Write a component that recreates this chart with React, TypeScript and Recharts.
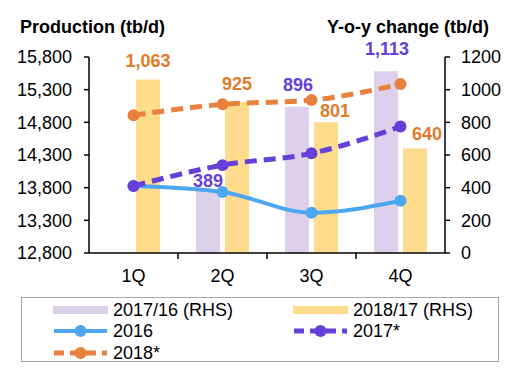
import React from "react";
import {
  ComposedChart,
  Bar,
  Line,
  XAxis,
  YAxis,
  LabelList,
} from "recharts";

const quarters = ["1Q", "2Q", "3Q", "4Q"];
const yoy1716: (number | null)[] = [null, 389, 896, 1113];
const yoy1817 = [1063, 925, 801, 640];
const prod2016 = [13825, 13735, 13415, 13600];
const prod2017 = [13825, 14145, 14325, 14735];
const prod2018 = [14910, 15075, 15140, 15385];
const leftTicks = [12800, 13300, 13800, 14300, 14800, 15300, 15800];
const rightTicks = [0, 200, 400, 600, 800, 1000, 1200];

const data = quarters.map((q, i) => ({
  q,
  yoy1716: yoy1716[i],
  yoy1817: yoy1817[i],
  p2016: prod2016[i],
  p2017: prod2017[i],
  p2018: prod2018[i],
}));

const FONT = "'Liberation Sans', Arial, sans-serif";
const LAVENDER = "#DCD0EA";
const YELLOW = "#FFDC8C";
const BLUE = "#4DA6F2";
const PURPLE = "#6440D8";
const ORANGE = "#E8803E";
const ORANGE_TXT = "#E27A2A";
const HALF_BAND = 44.5;

// label nudges per quarter (dx, gap above bar)
const yellowNudge = [
  [0, 12],
  [0, 12],
  [9, 5],
  [12, 8],
];
const lavenderNudge = [
  [0, 14],
  [0, 2],
  [1, 16],
  [1, 16],
];

const makeLabel =
  (color: string, series: (number | null)[], nudge: number[][]) =>
  (props: any) => {
    const { x, y, width, value } = props;
    if (value == null) return null;
    // null bars are skipped, so find the quarter by value
    const qi = series.indexOf(Number(value));
    const [dx, gap] = nudge[qi] || [0, 10];
    return (
      <text
        x={Number(x) + Number(width) / 2 + dx}
        y={Number(y) - gap}
        textAnchor="middle"
        fill={color}
        fontFamily={FONT}
        fontSize={18}
        fontWeight="bold"
      >
        {Number(value).toLocaleString("en-US")}
      </text>
    );
  };

const XTick = (props: any) => {
  const { x, y, payload, index } = props;
  return (
    <g>
      {index > 0 && (
        <line
          x1={x - HALF_BAND}
          x2={x - HALF_BAND}
          y1={y}
          y2={y + 6}
          stroke="#000"
          strokeWidth={1.5}
        />
      )}
      <text
        x={x}
        y={y + 29}
        textAnchor="middle"
        fontFamily={FONT}
        fontSize={18}
        fill="#000"
      >
        {payload.value}
      </text>
    </g>
  );
};

const LineIcon = ({ color, dashed }: { color: string; dashed?: boolean }) => (
  <svg width={55} height={16} style={{ display: "block" }}>
    <line
      x1={1}
      x2={54}
      y1={8}
      y2={8}
      stroke={color}
      strokeWidth={dashed ? 5 : 4}
      strokeDasharray={dashed ? "10 6" : undefined}
    />
    <circle cx={27.5} cy={8} r={6} fill={color} />
  </svg>
);

const BarIcon = ({ color }: { color: string }) => (
  <svg width={55} height={16} style={{ display: "block" }}>
    <rect x={0} y={4} width={55} height={8} fill={color} />
  </svg>
);

const legendItems = [
  { label: "2017/16 (RHS)", icon: <BarIcon color={LAVENDER} />, left: 31, top: 12 },
  { label: "2018/17 (RHS)", icon: <BarIcon color={YELLOW} />, left: 271, top: 12 },
  { label: "2016", icon: <LineIcon color={BLUE} />, left: 31, top: 33 },
  { label: "2017*", icon: <LineIcon color={PURPLE} dashed />, left: 271, top: 33 },
  { label: "2018*", icon: <LineIcon color={ORANGE} dashed />, left: 31, top: 55 },
];

export default function App() {
  return (
    <div
      style={{
        position: "relative",
        width: 511,
        height: 371,
        margin: -8,
        background: "#fff",
        fontFamily: FONT,
      }}
    >
      <div
        style={{
          position: "absolute",
          left: 20,
          top: 18,
          fontSize: 18,
          lineHeight: "18px",
          fontWeight: "bold",
          whiteSpace: "nowrap",
        }}
      >
        Production (tb/d)
      </div>
      <div
        style={{
          position: "absolute",
          right: 22,
          top: 18,
          fontSize: 18,
          lineHeight: "18px",
          fontWeight: "bold",
          whiteSpace: "nowrap",
        }}
      >
        Y-o-y change (tb/d)
      </div>
      <ComposedChart
        width={511}
        height={290}
        data={data}
        margin={{ top: 57, right: 0, bottom: 0, left: 0 }}
        barSize={24}
        barGap={5}
        style={{ position: "absolute", left: 0, top: 0 }}
      >
        <XAxis
          dataKey="q"
          height={37}
          axisLine={{ stroke: "#000", strokeWidth: 1.5 }}
          tickLine={false}
          tickSize={0}
          tickMargin={0}
          tick={<XTick />}
          interval={0}
        />
        <YAxis
          yAxisId="left"
          orientation="left"
          width={89}
          domain={[12800, 15800]}
          ticks={leftTicks}
          allowDataOverflow
          tickFormatter={(v: number) => v.toLocaleString("en-US")}
          axisLine={{ stroke: "#000", strokeWidth: 1.5 }}
          tickLine={{ stroke: "#000", strokeWidth: 1.5 }}
          tickSize={5}
          tickMargin={12}
          tick={{ fill: "#000", fontSize: 18, fontFamily: FONT }}
        />
        <YAxis
          yAxisId="right"
          orientation="right"
          width={66}
          domain={[0, 1200]}
          ticks={rightTicks}
          axisLine={{ stroke: "#000", strokeWidth: 1.5 }}
          tickLine={{ stroke: "#000", strokeWidth: 1.5 }}
          tickSize={5}
          tickMargin={11}
          tick={{ fill: "#000", fontSize: 18, fontFamily: FONT }}
        />
        <Bar yAxisId="right" dataKey="yoy1716" fill={LAVENDER} isAnimationActive={false}>
          <LabelList dataKey="yoy1716" content={makeLabel(PURPLE, yoy1716, lavenderNudge)} />
        </Bar>
        <Bar yAxisId="right" dataKey="yoy1817" fill={YELLOW} isAnimationActive={false}>
          <LabelList dataKey="yoy1817" content={makeLabel(ORANGE_TXT, yoy1817, yellowNudge)} />
        </Bar>
        <Line
          yAxisId="left"
          type="monotone"
          dataKey="p2016"
          stroke={BLUE}
          strokeWidth={4}
          dot={{ r: 6, fill: BLUE, stroke: BLUE, strokeWidth: 0 }}
          isAnimationActive={false}
        />
        <Line
          yAxisId="left"
          type="monotone"
          dataKey="p2017"
          stroke={PURPLE}
          strokeWidth={5}
          strokeDasharray="12 7"
          dot={{ r: 6, fill: PURPLE, stroke: PURPLE, strokeWidth: 0, strokeDasharray: "" }}
          isAnimationActive={false}
        />
        <Line
          yAxisId="left"
          type="monotone"
          dataKey="p2018"
          stroke={ORANGE}
          strokeWidth={5}
          strokeDasharray="12 7"
          dot={{ r: 6, fill: ORANGE, stroke: ORANGE, strokeWidth: 0, strokeDasharray: "" }}
          isAnimationActive={false}
        />
      </ComposedChart>
      <div
        style={{
          position: "absolute",
          left: 21,
          top: 297,
          width: 478,
          height: 65,
          boxSizing: "border-box",
          border: "1.5px solid #A6A6A6",
        }}
      >
        {legendItems.map((it) => (
          <div
            key={it.label}
            style={{
              position: "absolute",
              left: it.left,
              top: it.top - 10,
              height: 20,
              display: "flex",
              alignItems: "center",
              fontSize: 18,
              whiteSpace: "nowrap",
            }}
          >
            {it.icon}
            <span style={{ marginLeft: 5 }}>{it.label}</span>
          </div>
        ))}
      </div>
    </div>
  );
}
